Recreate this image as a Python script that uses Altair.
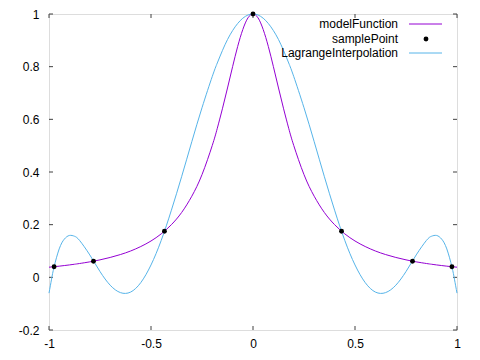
import altair as alt
import pandas as pd

# curve sample positions
x_vals = [-1, -0.9875, -0.975, -0.95, -0.925, -0.9, -0.875, -0.85, -0.8, -0.75,
          -0.7, -0.65, -0.6, -0.55, -0.5, -0.45, -0.4, -0.35, -0.3, -0.25,
          -0.2, -0.175, -0.15, -0.125, -0.1, -0.075, -0.05, -0.025, 0,
          0.025, 0.05, 0.075, 0.1, 0.125, 0.15, 0.175, 0.2, 0.25, 0.3,
          0.35, 0.4, 0.45, 0.5, 0.55, 0.6, 0.65, 0.7, 0.75, 0.8,
          0.85, 0.875, 0.9, 0.925, 0.95, 0.975, 0.9875, 1]
model_vals = [0.0385, 0.0394, 0.0404, 0.0424, 0.0447, 0.0471, 0.0497, 0.0525, 0.0588, 0.0664,
              0.0755, 0.0865, 0.100, 0.117, 0.138, 0.165, 0.200, 0.246, 0.308, 0.390,
              0.500, 0.566, 0.640, 0.719, 0.800, 0.877, 0.941, 0.985, 1.0,
              0.985, 0.941, 0.877, 0.800, 0.719, 0.640, 0.566, 0.500, 0.390, 0.308,
              0.246, 0.200, 0.165, 0.138, 0.117, 0.100, 0.0865, 0.0755, 0.0664, 0.0588,
              0.0525, 0.0497, 0.0471, 0.0447, 0.0424, 0.0404, 0.0394, 0.0385]
lagrange_vals = [-0.060, -0.007, 0.040, 0.108, 0.145, 0.159, 0.156, 0.140, 0.085, 0.022,
                 -0.030, -0.058, -0.056, -0.020, 0.047, 0.140, 0.255, 0.382, 0.515, 0.644,
                 0.762, 0.814, 0.861, 0.903, 0.937, 0.964, 0.984, 0.996, 1.0,
                 0.996, 0.984, 0.964, 0.937, 0.903, 0.861, 0.814, 0.762, 0.644, 0.515,
                 0.382, 0.255, 0.140, 0.047, -0.020, -0.056, -0.058, -0.030, 0.022, 0.085,
                 0.140, 0.156, 0.159, 0.145, 0.108, 0.040, -0.007, -0.060]
sample_x = [-0.975, -0.782, -0.434, 0, 0.434, 0.782, 0.975]
sample_y = [0.040, 0.061, 0.175, 1.0, 0.175, 0.061, 0.040]
x_ticks = [-1, -0.5, 0, 0.5, 1]
y_ticks = [-0.2, 0, 0.2, 0.4, 0.6, 0.8, 1]
legend_labels = ["modelFunction", "samplePoint", "LagrangeInterpolation"]

PURPLE = "#9400D3"
SKY = "#56B4E9"
FRAME = "#404040"
FONT = "Liberation Sans"
W, H = 408, 316

xscale = alt.Scale(domain=[-1, 1], nice=False, zero=False)
yscale = alt.Scale(domain=[-0.2, 1], nice=False, zero=False)
xaxis = alt.Axis(values=x_ticks, ticks=False, domain=False, grid=False, labelFlush=False,
                 labelExpr="toString(datum.value)", labelPadding=8,
                 labelFontSize=12, labelFont=FONT, labelColor="black", title=None)
yaxis = alt.Axis(values=y_ticks, ticks=False, domain=False, grid=False, labelFlush=False,
                 labelExpr="toString(datum.value)", labelPadding=10,
                 labelFontSize=12, labelFont=FONT, labelColor="black", title=None)

df_model = pd.DataFrame({"x": x_vals, "y": model_vals})
df_lag = pd.DataFrame({"x": x_vals, "y": lagrange_vals})
df_pts = pd.DataFrame({"x": sample_x, "y": sample_y})
df_xt = pd.DataFrame({"t": x_ticks})
df_yt = pd.DataFrame({"t": y_ticks})

X = alt.X("x:Q", scale=xscale, axis=xaxis)
Y = alt.Y("y:Q", scale=yscale, axis=yaxis)

model_line = alt.Chart(df_model).mark_line(color=PURPLE, strokeWidth=1, interpolate="natural").encode(x=X, y=Y)
lag_line = alt.Chart(df_lag).mark_line(color=SKY, strokeWidth=1, interpolate="natural").encode(x=X, y=Y)
points = alt.Chart(df_pts).mark_circle(color="black", size=24, opacity=1).encode(x=X, y=Y)

XT = alt.X("t:Q", scale=xscale, axis=xaxis)
YT = alt.Y("t:Q", scale=yscale, axis=yaxis)
tick_b = alt.Chart(df_xt).mark_rule(color=FRAME).encode(x=XT, y=alt.value(H), y2=alt.value(H - 4))
tick_t = alt.Chart(df_xt).mark_rule(color=FRAME).encode(x=XT, y=alt.value(0), y2=alt.value(4))
tick_l = alt.Chart(df_yt).mark_rule(color=FRAME).encode(y=YT, x=alt.value(0), x2=alt.value(4))
tick_r = alt.Chart(df_yt).mark_rule(color=FRAME).encode(y=YT, x=alt.value(W), x2=alt.value(W - 4))

layers = [tick_b, tick_t, tick_l, tick_r, model_line, lag_line, points]

rows_y = [10, 25, 39]
for lab, ry in zip(legend_labels, rows_y):
    layers.append(
        alt.Chart(pd.DataFrame({"label": [lab]}))
        .mark_text(align="right", baseline="middle", fontSize=12, font=FONT, color="black")
        .encode(text="label:N", x=alt.value(349), y=alt.value(ry))
    )
layers.append(alt.Chart(pd.DataFrame({"k": [0]})).mark_rule(color=PURPLE, strokeWidth=1)
              .encode(x=alt.value(360), x2=alt.value(393), y=alt.value(rows_y[0])))
layers.append(alt.Chart(pd.DataFrame({"k": [0]})).mark_circle(color="black", size=24, opacity=1)
              .encode(x=alt.value(377), y=alt.value(rows_y[1])))
layers.append(alt.Chart(pd.DataFrame({"k": [0]})).mark_rule(color=SKY, strokeWidth=1)
              .encode(x=alt.value(360), x2=alt.value(393), y=alt.value(rows_y[2])))

chart = alt.layer(*layers).properties(
    width=W, height=H,
    autosize=alt.AutoSizeParams(type="none"),
    padding={"left": 41, "top": 6, "right": 15, "bottom": 22},
).configure_view(stroke=FRAME, strokeWidth=1).configure(background="white")

chart.save("out.html", embed_options={"renderer": "svg", "actions": False})
